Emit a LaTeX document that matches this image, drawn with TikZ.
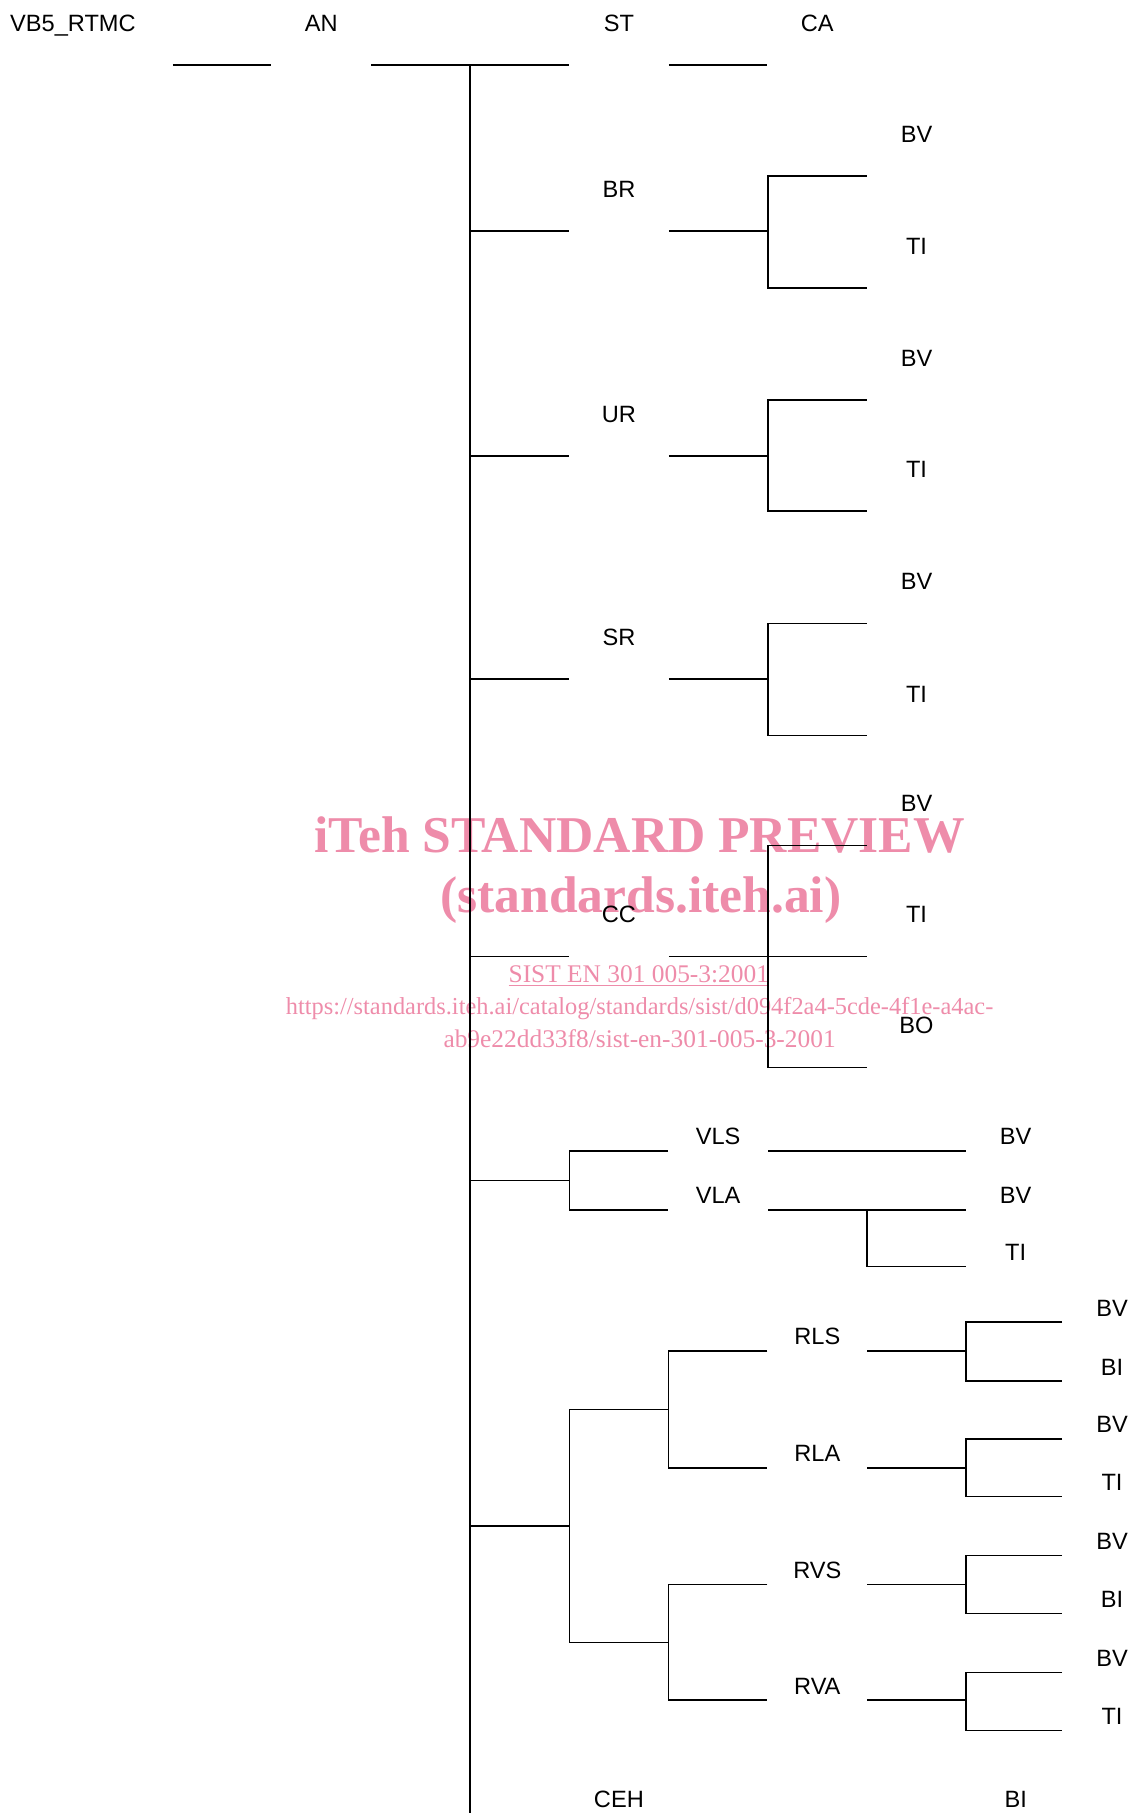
\documentclass[tikz,border=0pt]{standalone}
\usepackage{fontspec}
\setmainfont{Liberation Sans}
\newfontfamily\wmfont{Liberation Serif}
\usepackage{tikz}
\usetikzlibrary{positioning}
\definecolor{wmpink}{RGB}{238,140,170}

\begin{document}
\begin{tikzpicture}[x=0.5pt,y=-0.5pt,
  cell/.style={anchor=south,inner sep=0pt,minimum width=49.6pt,minimum height=41.6pt,text height=8.4pt,text depth=0pt,font=\fontsize{11.8}{13}\selectfont},
  cellb/.style={cell,minimum height=14pt},
  wire/.style={line width=0.8pt},
  wmbig/.style={text=wmpink,inner sep=0pt,font=\wmfont\bfseries\fontsize{25.8}{28}\selectfont},
  wmsmall/.style={text=wmpink,inner sep=0pt,font=\wmfont\fontsize{12.2}{14}\selectfont},
  wmnum/.style={wmsmall,font=\wmfont\fontsize{12.7}{14}\selectfont}
]
\useasboundingbox (0,0) rectangle (1130,1813);
% watermark
\node[wmbig] (wm1) at (639.6,835) {iTeh STANDARD PREVIEW};
\node[wmbig] (wm2) at (640.8,900.3) {(standards.iteh.ai)};
\node[wmnum] (wm3) at (638.8,976.2) {\underline{SIST EN 301 005-3:2001}};
\node[wmsmall] (wm4) at (639.6,1008.6) {https://standards.iteh.ai/catalog/standards/sist/d094f2a4-5cde-4f1e-a4ac-};
\node[wmnum] (wm5) at (639.6,1038.7) {ab9e22dd33f8/sist-en-301-005-3-2001};
% top row
\node[cell] (root) at (72.9,64.8) {\makebox[99.6pt]{VB5\_RTMC}};
\node[cell] (an) at (321.3,64.8) {AN};
\node[cell] (st) at (618.9,64.8) {ST};
\node[cell] (ca) at (817.3,64.8) {CA};
\coordinate (tk) at (470.1,64.8);
\coordinate (tkend) at (470.1,1813);
% BR / UR / SR
\node[cell] (br) at (618.9,231.3) {BR};
\node[cell] (brbv) at (916.5,175.8) {BV};
\node[cell] (brti) at (916.5,288.0) {TI};
\coordinate (brj) at (767.7,231.3);
\node[cell] (ur) at (618.9,455.7) {UR};
\node[cell] (urbv) at (916.5,400.2) {BV};
\node[cell] (urti) at (916.5,511.2) {TI};
\coordinate (urj) at (767.7,455.7);
\node[cell] (sr) at (618.9,678.9) {SR};
\node[cell] (srbv) at (916.5,623.4) {BV};
\node[cell] (srti) at (916.5,735.6) {TI};
\coordinate (srj) at (767.7,678.9);
% CC
\node[cell] (cc) at (618.9,956.5) {CC};
\node[cell] (ccbv) at (916.5,845.5) {BV};
\node[cell] (ccti) at (916.5,956.5) {TI};
\node[cell] (ccbo) at (916.5,1067.5) {BO};
\coordinate (ccj) at (767.7,956.5);
% VLS / VLA
\node[cellb] (vls) at (718.1,1150.8) {VLS};
\node[cellb] (vla) at (718.1,1209.8) {VLA};
\node[cellb] (vlsbv) at (1015.7,1150.8) {BV};
\node[cellb] (vlabv) at (1015.7,1209.8) {BV};
\node[cellb] (vlati) at (1015.7,1266.5) {TI};
\coordinate (vlk) at (569.3,1180.3);
\coordinate (vlaj) at (866.9,1209.8);
% RLS / RLA / RVS / RVA
\node[cellb] (rls) at (817.3,1350.9) {RLS};
\node[cellb] (rla) at (817.3,1467.7) {RLA};
\node[cellb] (rvs) at (817.3,1584.5) {RVS};
\node[cellb] (rva) at (817.3,1700.2) {RVA};
\node[cellb] (rlsbv) at (1112,1322) {BV};
\node[cellb] (rlsbi) at (1112,1381) {BI};
\node[cellb] (rlabv) at (1112,1438.8) {BV};
\node[cellb] (rlati) at (1112,1496.6) {TI};
\node[cellb] (rvsbv) at (1112,1555.6) {BV};
\node[cellb] (rvsbi) at (1112,1613.5) {BI};
\node[cellb] (rvabv) at (1112,1672.4) {BV};
\node[cellb] (rvati) at (1112,1730.3) {TI};
\coordinate (rk) at (569.3,1526.2);
\coordinate (rlk) at (668.5,1409.3);
\coordinate (rvk) at (668.5,1642.4);
\coordinate (rlsj) at (966.1,1350.9);
\coordinate (rlaj) at (966.1,1467.7);
\coordinate (rvsj) at (966.1,1584.5);
\coordinate (rvaj) at (966.1,1700.2);
% bottom row
\node[cellb] (ceh) at (618.9,1813.7) {CEH};
\node[cellb] (bi) at (1015.7,1813.7) {BI};

\draw[wire] (root.south east) -- (an.south west);
\draw[wire] (an.south east) -- (st.south west);
\draw[wire] (st.south east) -- (ca.south west);
\draw[wire] (tk) -- (tkend);
\draw[wire] (tk |- br.south) -- (br.south west);
\draw[wire] (br.south east) -- (brj);
\draw[wire] (brbv.south west) -| (brj) |- (brti.south west);
\draw[wire] (tk |- ur.south) -- (ur.south west);
\draw[wire] (ur.south east) -- (urj);
\draw[wire] (urbv.south west) -| (urj) |- (urti.south west);
\draw[wire] (tk |- sr.south) -- (sr.south west);
\draw[wire] (sr.south east) -- (srj);
\draw[wire] (srbv.south west) -| (srj) |- (srti.south west);
\draw[wire] (tk |- cc.south) -- (cc.south west);
\draw[wire] (cc.south east) -- (ccti.south west);
\draw[wire] (ccbv.south west) -| (ccj) |- (ccbo.south west);
\draw[wire] (tk |- vlk) -- (vlk);
\draw[wire] (vls.south west) -| (vlk) |- (vla.south west);
\draw[wire] (vls.south east) -- (vlsbv.south west);
\draw[wire] (vla.south east) -- (vlabv.south west);
\draw[wire] (vlaj) |- (vlati.south west);
\draw[wire] (tk |- rk) -- (rk);
\draw[wire] (rlk) -| (rk) |- (rvk);
\draw[wire] (rls.south west) -| (rlk) |- (rla.south west);
\draw[wire] (rvs.south west) -| (rvk) |- (rva.south west);
\draw[wire] (rls.south east) -- (rlsj);
\draw[wire] (rlsbv.south west) -| (rlsj) |- (rlsbi.south west);
\draw[wire] (rla.south east) -- (rlaj);
\draw[wire] (rlabv.south west) -| (rlaj) |- (rlati.south west);
\draw[wire] (rvs.south east) -- (rvsj);
\draw[wire] (rvsbv.south west) -| (rvsj) |- (rvsbi.south west);
\draw[wire] (rva.south east) -- (rvaj);
\draw[wire] (rvabv.south west) -| (rvaj) |- (rvati.south west);
\end{tikzpicture}
\end{document}
